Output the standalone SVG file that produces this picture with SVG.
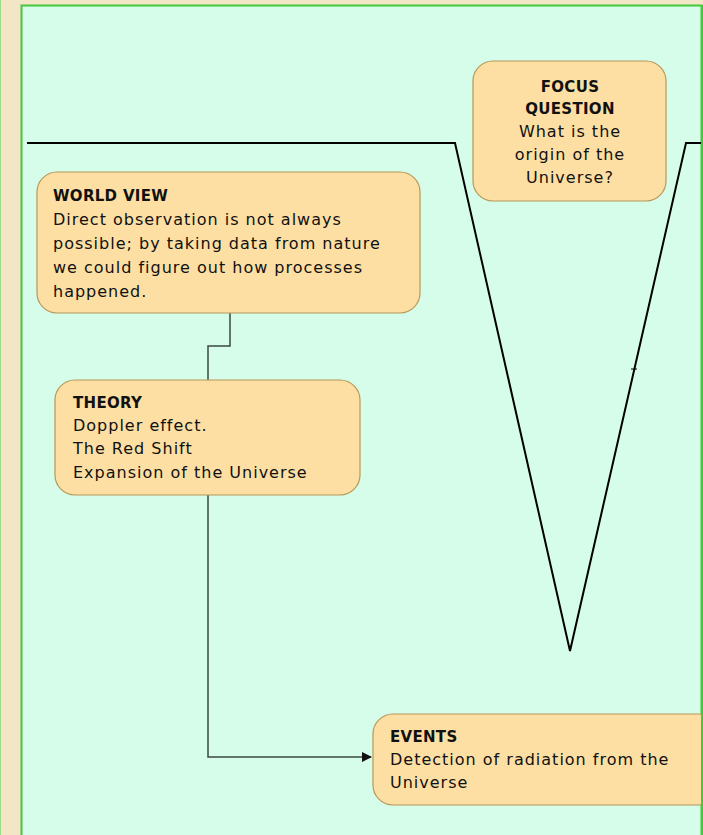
<svg xmlns="http://www.w3.org/2000/svg" width="703" height="835" viewBox="0 0 703 835">
<style>
.box{fill:#fddfa3;stroke:#b8975a;stroke-width:1.2}
.t{font-family:"DejaVu Sans","Liberation Sans",sans-serif;font-size:16px;letter-spacing:1px;fill:#111}
.b{font-weight:bold;font-size:15px;letter-spacing:0.3px}
.conn{fill:none;stroke:#3a4a44;stroke-width:1.5}
.v{fill:none;stroke:#000;stroke-width:2}
</style>
<defs>
<marker id="arr" markerWidth="10" markerHeight="10" refX="9" refY="5" orient="auto" markerUnits="userSpaceOnUse">
<path d="M0,0 L10,5 L0,10 Z" fill="#111"/>
</marker>
</defs>
<rect x="0" y="0" width="703" height="835" fill="#f2e6c6"/>
<rect x="0" y="0" width="1" height="835" fill="#9fdc8a"/>
<rect x="21" y="5" width="682" height="830" fill="#d5fde9"/>
<path d="M21.5,835 V5.5 H701.5 V835" fill="none" stroke="#44c83c" stroke-width="2"/>
<g id="vee">
<path class="v" d="M27,143 H455 L570,651 L686,143 H701"/>
<path d="M631,369 H637" stroke="#000" stroke-width="1"/>
</g>
<g id="connectors">
<path class="conn" d="M230,313 V346 H208 V380"/>
<path class="conn" d="M208,495 V757 H371" marker-end="url(#arr)"/>
</g>
<g id="focus">
<rect class="box" x="473" y="61" width="193" height="140" rx="20"/>
<text class="t" text-anchor="middle"><tspan class="b" x="570" y="92">FOCUS</tspan><tspan class="b" x="570" y="114">QUESTION</tspan><tspan x="570" y="137">What is the</tspan><tspan x="570" y="160">origin of the</tspan><tspan x="570" y="183">Universe?</tspan></text>
</g>
<g id="worldview">
<rect class="box" x="37" y="172" width="383" height="141" rx="20"/>
<text class="t"><tspan class="b" x="53" y="201">WORLD VIEW</tspan><tspan x="53" y="225">Direct observation is not always</tspan><tspan x="53" y="249">possible; by taking data from nature</tspan><tspan x="53" y="273">we could figure out how processes</tspan><tspan x="53" y="297">happened.</tspan></text>
</g>
<g id="theory">
<rect class="box" x="55" y="380" width="305" height="115" rx="20"/>
<text class="t"><tspan class="b" x="73" y="408">THEORY</tspan><tspan x="73" y="431">Doppler effect.</tspan><tspan x="73" y="454">The Red Shift</tspan><tspan x="73" y="478">Expansion of the Universe</tspan></text>
</g>
<g id="events">
<rect class="box" x="373" y="714" width="345" height="91" rx="20"/>
<text class="t"><tspan class="b" x="390" y="742">EVENTS</tspan><tspan x="390" y="765">Detection of radiation from the</tspan><tspan x="390" y="788">Universe</tspan></text>
</g>
<rect x="701" y="5" width="2" height="830" fill="#44c83c"/>
</svg>
